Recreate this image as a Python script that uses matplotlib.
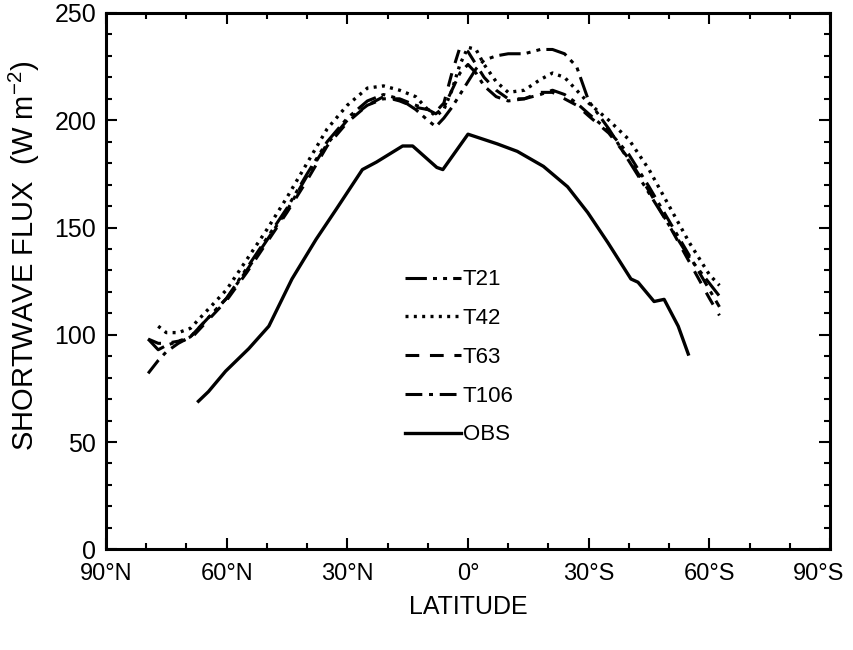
import numpy as np
import matplotlib
matplotlib.use("Agg")
import matplotlib.pyplot as plt
from matplotlib.ticker import MultipleLocator
from matplotlib.transforms import ScaledTranslation

plt.rcParams['font.family'] = ['Liberation Sans Narrow', 'Liberation Sans', 'DejaVu Sans']
plt.rcParams['mathtext.fontset'] = 'custom'
plt.rcParams['mathtext.rm'] = 'Liberation Sans'

# Latitude (degrees, north positive)
lat_model = [79.5, 77, 75, 72, 69, 65, 60, 55, 50, 45, 40, 35, 30, 25, 21, 17, 13, 10, 8, 6,
             4, 2, 0, -2, -4, -7, -10, -14, -18, -21, -24, -27, -30, -35, -40, -45, -50, -55, -60, -62.5]

t21 = [98, 93, 95, 97, 99, 107, 117, 131, 145, 159, 175, 190, 201, 209, 212, 210, 205, 200, 197, 201,
       206, 212, 218, 224, 228, 230, 231, 231, 233, 233, 231, 225, 209, 196, 181, 166, 151, 136, 124, 118]
t42 = [np.nan, 104, 101, 101, 103, 111, 121, 135, 149, 164, 180, 196, 207, 215, 216, 214, 211, 205, 202, 205,
       214, 226, 234, 233, 226, 218, 213, 214, 219, 222, 220, 214, 208, 200, 191, 177, 160, 143, 128, 123]
t63 = [98, 96, 96, 97, 98, 106, 116, 129, 143, 157, 172, 188, 199, 207, 211, 209, 206, 205, 204, 208,
       222, 234, 232, 226, 220, 214, 210, 210, 213, 213, 210, 207, 202, 194, 182, 167, 151, 134, 117, 109]
t106 = [82, 88, 92, 96, 99, 107, 117, 130, 144, 158, 174, 189, 200, 207, 210, 210, 207, 205, 203, 206,
        214, 222, 226, 222, 216, 211, 209, 210, 212, 214, 212, 208, 203, 195, 184, 169, 153, 137, 121, 113]

lat_obs = [67, 64.5, 60.25, 54.5, 49.5, 43.75, 37.75, 32.75, 26.25, 22.75, 16.25, 13.75, 7.75, 6.25, 0,
           -7.25, -12.25, -18.75, -24.75, -29.75, -34.75, -40.5, -42.25, -46.25, -48.75, -52.25, -54.75]
obs = [69, 73.5, 83, 93.5, 104, 126, 144.5, 158.5, 177, 180.5, 188, 188, 178, 177, 193.5,
       189, 185.5, 178.5, 169, 157, 143, 126, 124.5, 115.5, 116.5, 104, 91]

xticks = [90, 60, 30, 0, -30, -60, -90]
xticklabels = ['90°N', '60°N', '30°N', '0°', '30°S', '60°S', '90°S']
yticks = [0, 50, 100, 150, 200, 250]

fig = plt.figure(figsize=(8.54, 6.5), dpi=100)
ax = fig.add_axes([0.124, 0.155, 0.848, 0.825])

ax.plot(lat_model, t21, color='black', lw=2.2, ls=(0, (7, 2, 1.3, 2, 1.3, 2)), label='T21')
ax.plot(lat_model, t42, color='black', lw=2.4, ls=(0, (0.9, 1.6)), label='T42')
ax.plot(lat_model, t63, color='black', lw=2.2, ls=(0, (4.5, 3.5)), label='T63')
ax.plot(lat_model, t106, color='black', lw=2.2, ls=(0, (5.5, 2.2, 1.3, 2.2)), label='T106')
ax.plot(lat_obs, obs, color='black', lw=2.4, ls='-', label='OBS')

ax.set_xlim(90, -90)
ax.set_ylim(0, 250)
ax.set_xticks(xticks)
ax.set_xticklabels(xticklabels)
ax.set_yticks(yticks)
ax.xaxis.set_minor_locator(MultipleLocator(10))
ax.yaxis.set_minor_locator(MultipleLocator(10))
ax.tick_params(which='both', direction='in', top=True, right=True, width=1.5, colors='black')
ax.tick_params(axis='y', which='major', length=8, labelsize=18, pad=7)
ax.tick_params(axis='x', which='major', length=8, labelsize=17, pad=10)
ax.tick_params(which='minor', length=4.5)
for s in ax.spines.values():
    s.set_linewidth(2.2)

# nudge the last x tick label so it stays inside the figure
last = ax.get_xticklabels()[-1]
last.set_transform(last.get_transform() + ScaledTranslation(-8 / 72, 0, fig.dpi_scale_trans))

ax.set_xlabel('LATITUDE', fontsize=18)
ax.set_ylabel(r'SHORTWAVE FLUX  (W m$^{\mathregular{-2}}$)', fontsize=21)
ax.xaxis.set_label_coords(0.5, -0.086)
ax.yaxis.set_label_coords(-0.088, 0.548)

leg = ax.legend(loc='upper left', bbox_to_anchor=(0.413, 0.522), frameon=False, fontsize=16,
                handlelength=2.5, handletextpad=0.1, labelspacing=0.8, borderpad=0, borderaxespad=0)

fig.savefig('out.png', dpi=100)
